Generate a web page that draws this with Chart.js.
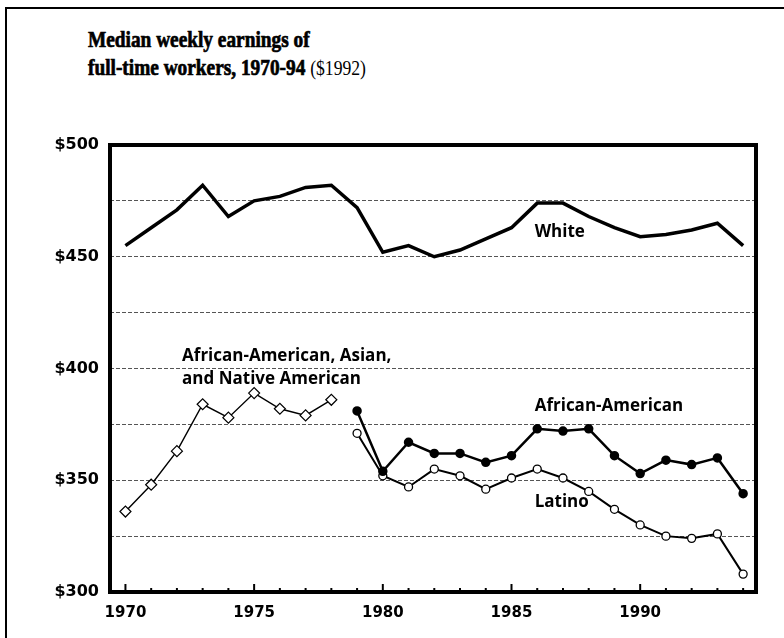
<!DOCTYPE html>
<html>
<head>
<meta charset="utf-8">
<script src="https://cdn.jsdelivr.net/npm/chart.js"></script>
<style>
body { margin: 0; background: #fff; }
#wrap { position: relative; width: 784px; height: 638px; overflow: hidden; }
#frame { position: absolute; left: 5px; top: 7px; width: 800px; height: 700px; border-left: 2px solid #000; border-top: 2px solid #000; }
.title { position: absolute; left: 88px; font-family: "Liberation Serif", serif; font-weight: bold; font-size: 23px; color: #000; white-space: nowrap;
         transform: scaleX(0.84); transform-origin: left top; -webkit-text-stroke: 0.7px #000; }
.title span { font-weight: normal; font-size: 21px; -webkit-text-stroke: 0; }
canvas { position: absolute; left: 0; top: 0; }
</style>
</head>
<body>
<div id="wrap">
  <div id="frame"></div>
  <div class="title" style="top:27px">Median weekly earnings of</div>
  <div class="title" style="top:55px">full-time workers, 1970-94 <span>($1992)</span></div>
  <canvas id="myChart" width="784" height="638"></canvas>
</div>
<script>
// data
var whiteYears = [1970,1971,1972,1973,1974,1975,1976,1977,1978,1979,1980,1981,1982,1983,1984,1985,1986,1987,1988,1989,1990,1991,1992,1993,1994];
var whiteValues = [455,463,471,482,468,475,477,481,482,472,452,455,450,453,458,463,474,474,468,463,459,460,462,465,455];

var asianYears = [1970,1971,1972,1973,1974,1975,1976,1977,1978];
var asianValues = [336,348,363,384,378,389,382,379,386];

var afamYears = [1979,1980,1981,1982,1983,1984,1985,1986,1987,1988,1989,1990,1991,1992,1993,1994];
var afamValues = [381,354,367,362,362,358,361,373,372,373,361,353,359,357,360,344];

var latinoYears = [1979,1980,1981,1982,1983,1984,1985,1986,1987,1988,1989,1990,1991,1992,1993,1994];
var latinoValues = [371,352,347,355,352,346,351,355,351,345,337,330,325,324,326,308];

var xTickLabels = [1970,1975,1980,1985,1990];
var yTickLabels = [300,350,400,450,500];

function pts(xs, ys) {
    var out = [];
    for (var i = 0; i < xs.length; i++) out.push({x: xs[i], y: ys[i]});
    return out;
}

// labels placed on the chart, in data units
var notes = [
    {text: "White", x: 1985.9, y: 461},
    {text: "African-American, Asian,", x: 1972.2, y: 405.3},
    {text: "and Native American", x: 1972.2, y: 395.3},
    {text: "African-American", x: 1985.9, y: 383.2},
    {text: "Latino", x: 1985.9, y: 340}
];

var framePlugin = {
    id: "framePlugin",
    afterDatasetsDraw: function(chart) {
        var ctx = chart.ctx;
        var a = chart.chartArea;
        var xs = chart.scales.x;
        ctx.save();
        ctx.strokeStyle = "#000";
        // year ticks inside the bottom axis
        ctx.lineWidth = 2;
        for (var i = 0; i < whiteYears.length; i++) {
            var yr = whiteYears[i];
            var px = xs.getPixelForValue(yr);
            var len = (yr % 5 == 0) ? 8 : 4;
            ctx.beginPath();
            ctx.moveTo(px, a.bottom);
            ctx.lineTo(px, a.bottom - len);
            ctx.stroke();
        }
        ctx.lineWidth = 4;
        ctx.beginPath();
        ctx.moveTo(a.left, a.top);
        ctx.lineTo(a.right, a.top);
        ctx.lineTo(a.right, a.bottom);
        ctx.lineTo(a.left, a.bottom);
        ctx.closePath();
        ctx.stroke();

        ctx.fillStyle = "#000";
        ctx.font = "bold 17px 'Open Sans', sans-serif";
        ctx.textBaseline = "middle";
        ctx.textAlign = "left";
        var ys = chart.scales.y;
        notes.forEach(function(n) {
            ctx.fillText(n.text, xs.getPixelForValue(n.x), ys.getPixelForValue(n.y));
        });
        ctx.restore();
    }
};

new Chart("myChart", {
    type: "line",
    data: {
        datasets: [{
            data: pts(whiteYears, whiteValues),
            borderColor: "#000",
            borderWidth: 3.5,
            pointRadius: 0,
            tension: 0
        }, {
            data: pts(asianYears, asianValues),
            borderColor: "#000",
            borderWidth: 1.4,
            pointStyle: "rectRot",
            pointRadius: 5.5,
            pointBackgroundColor: "#fff",
            pointBorderColor: "#000",
            pointBorderWidth: 1.2
        }, {
            data: pts(afamYears, afamValues),
            borderColor: "#000",
            borderWidth: 2.5,
            pointRadius: 3.5,
            pointBackgroundColor: "#000",
            pointBorderColor: "#000"
        }, {
            data: pts(latinoYears, latinoValues),
            borderColor: "#000",
            borderWidth: 2,
            pointRadius: 4,
            pointBackgroundColor: "#fff",
            pointBorderColor: "#000",
            pointBorderWidth: 1.3
        }]
    },
    options: {
        responsive: false,
        animation: false,
        layout: {padding: {top: 145, right: 28, left: 0, bottom: 0}},
        plugins: {legend: {display: false}, tooltip: {enabled: false}},
        scales: {
            x: {
                type: "linear",
                min: 1969.4,
                max: 1994.5,
                afterBuildTicks: function(s) { s.ticks = xTickLabels.map(function(v) { return {value: v}; }); },
                afterFit: function(s) { s.height = 46; },
                border: {display: false},
                grid: {display: false, drawTicks: false},
                ticks: {
                    padding: 12,
                    color: "#000",
                    font: {family: "DejaVu Sans", weight: "bold", size: 15},
                    callback: function(v) { return String(v); }
                }
            },
            y: {
                min: 300,
                max: 500,
                afterFit: function(s) { s.width = 110; },
                border: {display: false, dash: [4, 2]},
                grid: {
                    drawTicks: false,
                    color: function(c) { return (c.tick.value == 300 || c.tick.value == 500) ? "rgba(0,0,0,0)" : "#555"; },
                    lineWidth: 1
                },
                ticks: {
                    stepSize: 25,
                    padding: 11,
                    color: "#000",
                    font: {family: "DejaVu Sans", weight: "bold", size: 16},
                    callback: function(v) { return yTickLabels.indexOf(v) >= 0 ? "$" + v : ""; }
                }
            }
        }
    },
    plugins: [framePlugin]
});
</script>
</body>
</html>
